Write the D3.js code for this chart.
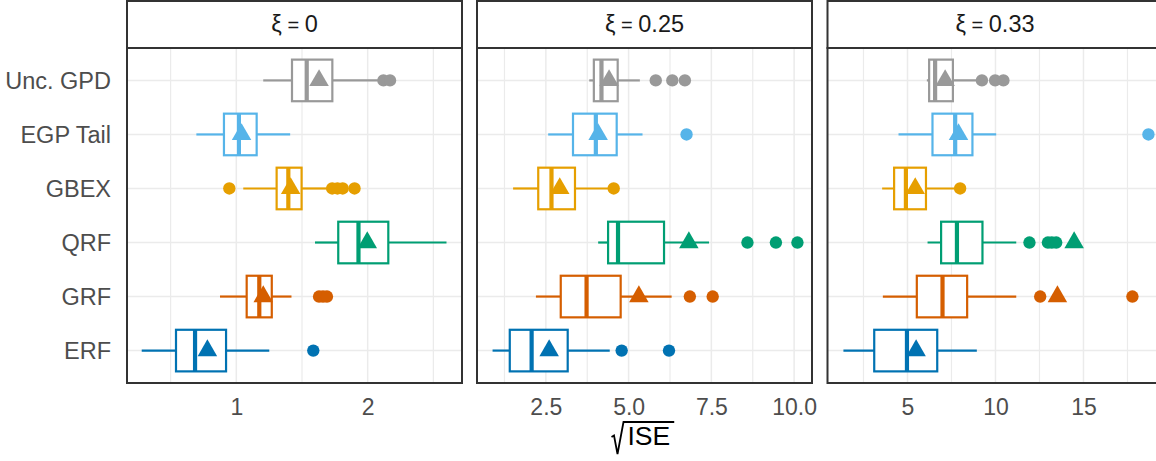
<!DOCTYPE html>
<html>
<head>
<meta charset="utf-8">
<script src="https://cdn.jsdelivr.net/npm/d3@7"></script>
<style>
  body { margin: 0; background: #fff; }
  text { font-family: "Liberation Sans", Arial, sans-serif; }
</style>
</head>
<body>
<div id="chart"></div>
<script>
// categories, top to bottom
var methods = ["Unc. GPD", "EGP Tail", "GBEX", "QRF", "GRF", "ERF"];
var colors = ["#999999", "#56B4E9", "#E69F00", "#009E73", "#D55E00", "#0072B2"];
var panels = ["0", "0.25", "0.33"];

// per panel, per method: [whisker low, q1, median, q3, whisker high, mean]
var statsXi0 = [
    [1.205, 1.424, 1.536, 1.731, 2.10, 1.63],
    [0.696, 0.906, 1.02, 1.155, 1.41, 1.04],
    [1.053, 1.307, 1.396, 1.497, 1.713, 1.414],
    [1.599, 1.776, 1.93, 2.157, 2.60, 1.997],
    [0.876, 1.079, 1.175, 1.27, 1.42, 1.205],
    [0.28, 0.541, 0.686, 0.922, 1.251, 0.78]
];
var statsXi25 = [
    [3.81, 3.95, 4.18, 4.67, 5.34, 4.41],
    [2.57, 3.32, 4.01, 4.64, 5.42, 4.08],
    [1.51, 2.27, 2.67, 3.38, 4.43, 2.92],
    [4.08, 4.38, 4.68, 6.07, 7.43, 6.82],
    [2.20, 2.95, 3.73, 4.76, 6.30, 5.31],
    [0.89, 1.41, 2.07, 3.16, 4.43, 2.60]
];
var statsXi33 = [
    [6.10, 6.23, 6.57, 7.58, 8.94, 7.14],
    [4.49, 6.42, 7.71, 8.69, 10.04, 7.90],
    [3.56, 4.24, 4.91, 6.05, 7.71, 5.44],
    [6.14, 6.91, 7.81, 9.26, 11.18, 14.47],
    [3.60, 5.53, 6.99, 8.39, 11.18, 13.52],
    [1.36, 3.11, 4.97, 6.69, 8.94, 5.49]
];

// outliers per panel, per method
var outXi0 = [[2.12, 2.17], [], [0.947, 1.73, 1.77, 1.81, 1.90], [], [1.63, 1.66, 1.69], [1.586]];
var outXi25 = [[5.82, 6.32, 6.70], [6.75], [4.55], [8.59, 9.45, 10.10], [6.85, 7.54], [4.79, 6.22]];
var outXi33 = [[9.23, 9.98, 10.45], [18.69], [7.99], [11.93, 12.98, 13.2, 13.45], [12.54, 17.78], []];

var xDomains = [[0.168, 2.718], [0.42, 10.54], [0.455, 19.49]];
var majorTicks = [[1, 2], [2.5, 5, 7.5, 10], [5, 10, 15]];
var tickLabels = [["1", "2"], ["2.5", "5.0", "7.5", "10.0"], ["5", "10", "15"]];
var minorTicks = [[0.5, 1.5, 2.5], [1.25, 3.75, 6.25, 8.75], [2.5, 7.5, 12.5, 17.5]];

var allStats = [statsXi0, statsXi25, statsXi33];
var allOut = [outXi0, outXi25, outXi33];

var width = 1156, height = 461;
var panelLeft = [127, 477, 827.5];
var panelW = 335;
var stripTop = 1, panelTop = 48, panelBottom = 383;

var svg = d3.select("#chart").append("svg")
    .attr("width", width)
    .attr("height", height);

var yScale = d3.scalePoint()
    .domain(methods)
    .range([panelTop, panelBottom])
    .padding(0.6);

var boxH = yScale.step() * 0.77;
var colorScale = d3.scaleOrdinal().domain(methods).range(colors);

// y axis labels
svg.append("g")
    .selectAll("text")
    .data(methods)
    .join("text")
    .attr("x", 111)
    .attr("y", d => yScale(d))
    .attr("dy", "0.36em")
    .attr("text-anchor", "end")
    .style("font-size", "23.5px")
    .style("fill", "#4d4d4d")
    .text(d => d);

panels.forEach(function (p, i) {
    var x0 = panelLeft[i];
    var xScale = d3.scaleLinear()
        .domain(xDomains[i])
        .range([x0, x0 + panelW]);

    var g = svg.append("g");

    // clip
    var clipId = "clip" + i;
    svg.append("clipPath").attr("id", clipId)
        .append("rect")
        .attr("x", x0).attr("y", panelTop)
        .attr("width", panelW).attr("height", panelBottom - panelTop);

    var inner = g.append("g").attr("clip-path", "url(#" + clipId + ")");

    // grid
    inner.selectAll(".minor")
        .data(minorTicks[i])
        .join("line")
        .attr("x1", d => xScale(d)).attr("x2", d => xScale(d))
        .attr("y1", panelTop).attr("y2", panelBottom)
        .attr("stroke", "#ebebeb").attr("stroke-width", 1.2);
    inner.selectAll(".major")
        .data(majorTicks[i])
        .join("line")
        .attr("x1", d => xScale(d)).attr("x2", d => xScale(d))
        .attr("y1", panelTop).attr("y2", panelBottom)
        .attr("stroke", "#ebebeb").attr("stroke-width", 1.5);
    inner.selectAll(".hgrid")
        .data(methods)
        .join("line")
        .attr("x1", x0).attr("x2", x0 + panelW)
        .attr("y1", d => yScale(d)).attr("y2", d => yScale(d))
        .attr("stroke", "#ebebeb").attr("stroke-width", 1.5);

    var stats = allStats[i];
    var outs = allOut[i];

    var rows = inner.selectAll(".row")
        .data(methods)
        .join("g")
        .attr("transform", d => "translate(0," + yScale(d) + ")");

    rows.each(function (m, j) {
        var s = stats[j];
        var c = colorScale(m);
        var r = d3.select(this);
        // whiskers
        r.append("line")
            .attr("x1", xScale(s[0])).attr("x2", xScale(s[1]))
            .attr("stroke", c).attr("stroke-width", 2.2);
        r.append("line")
            .attr("x1", xScale(s[3])).attr("x2", xScale(s[4]))
            .attr("stroke", c).attr("stroke-width", 2.2);
        // box
        r.append("rect")
            .attr("x", xScale(s[1]))
            .attr("y", -boxH / 2)
            .attr("width", xScale(s[3]) - xScale(s[1]))
            .attr("height", boxH)
            .attr("fill", "#fff")
            .attr("stroke", c).attr("stroke-width", 2.2);
        // median
        r.append("line")
            .attr("x1", xScale(s[2])).attr("x2", xScale(s[2]))
            .attr("y1", -boxH / 2).attr("y2", boxH / 2)
            .attr("stroke", c).attr("stroke-width", 4.2);
        // outliers
        r.selectAll("circle")
            .data(outs[j])
            .join("circle")
            .attr("cx", d => xScale(d))
            .attr("cy", 0)
            .attr("r", 6.2)
            .attr("fill", c);
        // mean
        r.append("path")
            .attr("d", d3.symbol().type(d3.symbolTriangle).size(165)())
            .attr("transform", "translate(" + xScale(s[5]) + ",0)")
            .attr("fill", c);
    });

    // panel border
    g.append("rect")
        .attr("x", x0).attr("y", panelTop)
        .attr("width", panelW).attr("height", panelBottom - panelTop)
        .attr("fill", "none")
        .attr("stroke", "#333333").attr("stroke-width", 2);

    // strip
    g.append("rect")
        .attr("x", x0).attr("y", stripTop)
        .attr("width", panelW).attr("height", panelTop - stripTop)
        .attr("fill", "#fff")
        .attr("stroke", "#333333").attr("stroke-width", 2);
    var st = g.append("text")
        .attr("x", x0 + panelW / 2)
        .attr("y", (stripTop + panelTop) / 2 - 1)
        .attr("dy", "0.36em")
        .attr("text-anchor", "middle")
        .style("font-size", "23.5px")
        .style("fill", "#1a1a1a");
    st.append("tspan").text("\u03BE");
    st.append("tspan").style("font-size", "20px").text(" = ");
    st.append("tspan").text(p);

    // x axis
    var axis = d3.axisBottom(xScale)
        .tickValues(majorTicks[i])
        .tickFormat((d, k) => tickLabels[i][k])
        .tickSize(0)
        .tickPadding(16);
    var ax = svg.append("g")
        .attr("transform", "translate(0," + panelBottom + ")")
        .call(axis);
    ax.select(".domain").remove();
    ax.selectAll("text")
        .style("font-size", "23px")
        .style("fill", "#4d4d4d")
        .style("font-family", "Liberation Sans, Arial, sans-serif");
});

// x title: sqrt(ISE), radical drawn as a path
var tx = (panelLeft[1] + panelW / 2);
var title = svg.append("g");
var ise = title.append("text")
    .attr("x", tx - 17)
    .attr("y", 445)
    .style("font-size", "26.5px")
    .style("fill", "#000")
    .text("ISE");
var iseLen = ise.node().getComputedTextLength();
var rx = tx - 33;
title.append("path")
    .attr("d", "M" + rx + ",437 L" + (rx + 2.5) + ",435.5 L" + (rx + 6) + ",454 L" + (rx + 12) + ",422 L" + (tx - 17 + iseLen + 4) + ",422")
    .attr("fill", "none")
    .attr("stroke", "#000")
    .attr("stroke-width", 1.8)
    .attr("stroke-linejoin", "miter");
</script>
</body>
</html>
